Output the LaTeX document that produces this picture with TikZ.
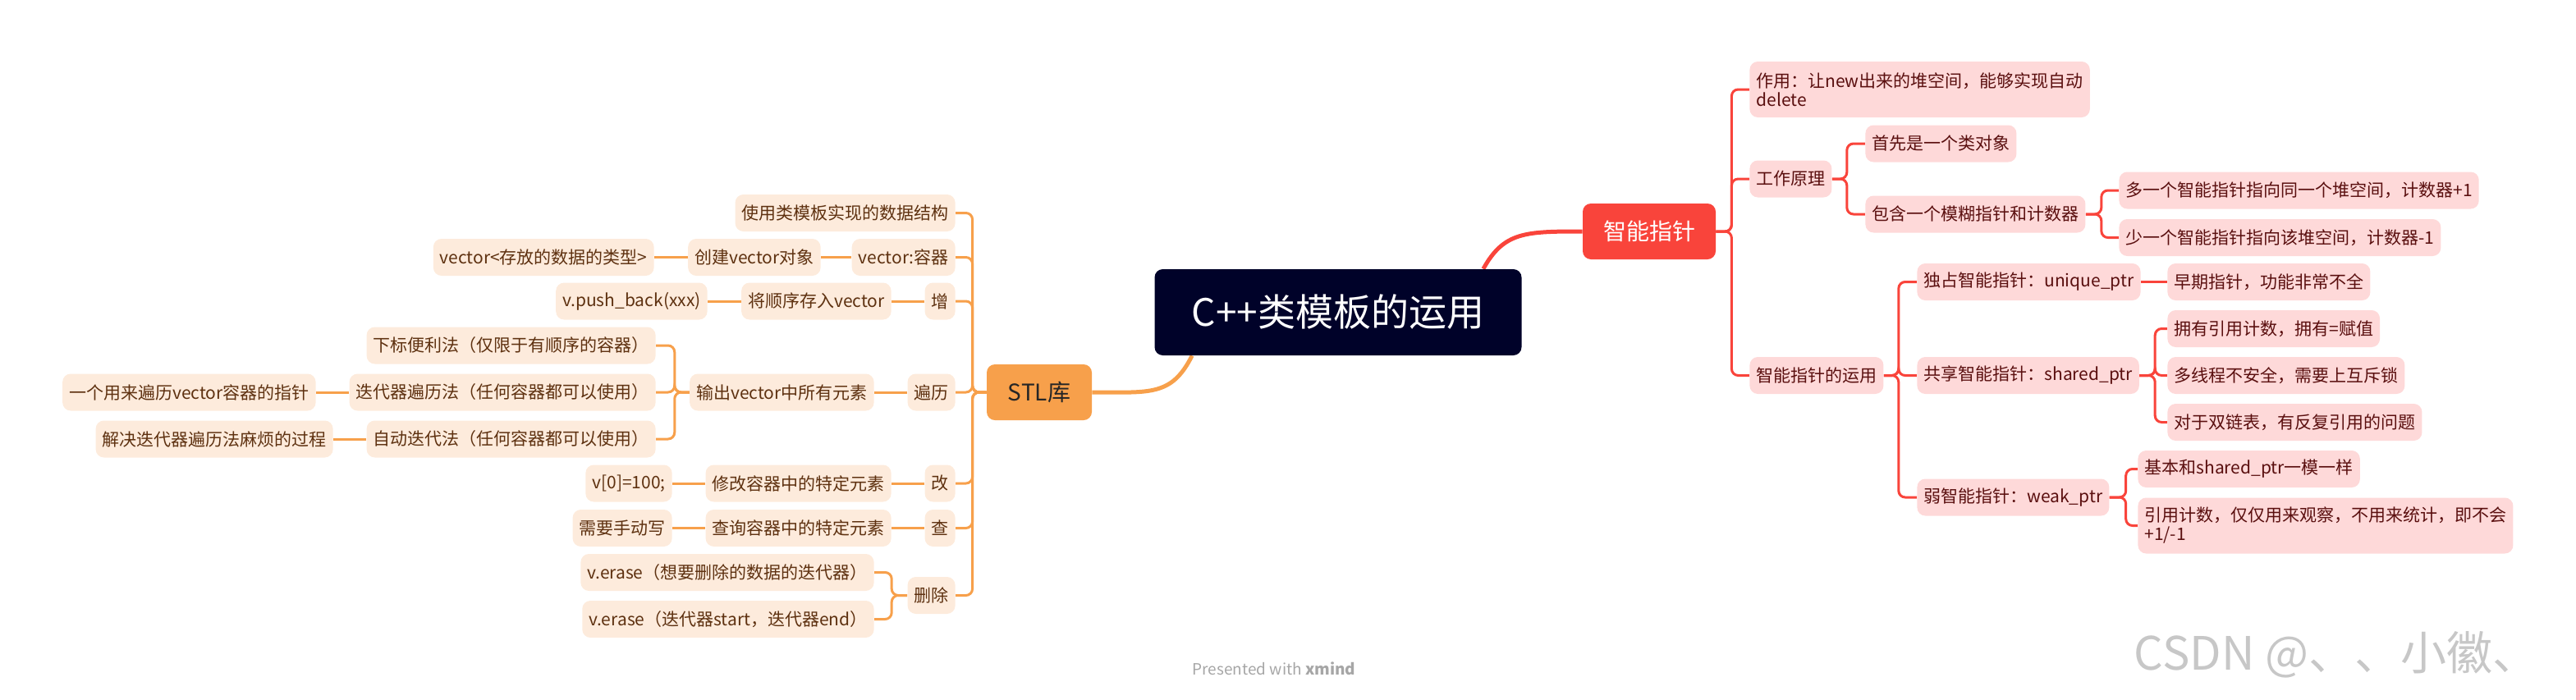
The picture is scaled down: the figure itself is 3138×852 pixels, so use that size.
\documentclass[tikz,border=0pt]{standalone}
\usepackage{fontspec}
\setmainfont{Noto Sans CJK SC}
\usepackage{tikz}
\usetikzlibrary{calc,positioning,backgrounds}
\definecolor{rootbg}{HTML}{000229}
\definecolor{stlorange}{HTML}{F7A04B}
\definecolor{stlfill}{HTML}{FDEBDC}
\definecolor{stltext}{HTML}{5E3110}
\definecolor{ptrred}{HTML}{F9443B}
\definecolor{ptrfill}{HTML}{FED9D9}
\definecolor{ptrtext}{HTML}{5A0F0F}
\tikzset{
  topicbox/.style={rounded corners=5pt, inner xsep=4pt, inner ysep=0pt, minimum height=22.5pt, font=\fontsize{10.5}{11.5}\selectfont},
  stlbox/.style={topicbox, fill=stlfill, text=stltext, anchor=east},
  ptrbox/.style={topicbox, fill=ptrfill, text=ptrtext, anchor=west, align=left},
  rootbox/.style={fill=rootbg, text=white, rounded corners=5pt, minimum width=223.5pt, minimum height=52.5pt, font=\fontsize{23}{27}\selectfont},
  stlroot/.style={fill=stlorange, text=black!85, rounded corners=5pt, minimum width=64pt, minimum height=34pt, font=\fontsize{14}{16}\selectfont},
  ptrroot/.style={fill=ptrred, text=white, rounded corners=5pt, minimum width=81pt, minimum height=34pt, font=\fontsize{14}{16}\selectfont},
  stlline/.style={draw=stlorange, line width=1.5pt, rounded corners=4pt},
  ptrline/.style={draw=ptrred, line width=1.5pt, rounded corners=4pt},
  stlmain/.style={draw=stlorange, line width=2.5pt},
  ptrmain/.style={draw=ptrred, line width=2.5pt},
}

\begin{document}
\begin{tikzpicture}[x=0.5pt,y=-0.5pt]
\useasboundingbox (0,0) rectangle (3138,852);
% central topic
\node[rootbox] (root) at (1630,380.5) {C++类模板的运用};
\node[stlroot] (stl) at (1266,478) {STL库};
\node[ptrroot] (ptr) at (2009,282) {智能指针};
\coordinate (rootS) at ([xshift=23pt]root.south west);
\coordinate (rootN) at ([xshift=-23.5pt]root.north east);

% STL, left side
\node[stlbox] (sUse) at (1164,259.5) {使用类模板实现的数据结构};
\node[stlbox] (sVec) at (1164,313.5) {vector:容器};
\node[stlbox] (sAdd) at (1164,367) {增};
\node[stlbox] (sLoop) at (1164,478) {遍历};
\node[stlbox] (sMod) at (1164,589) {改};
\node[stlbox] (sFind) at (1164,643.5) {查};
\node[stlbox] (sDel) at (1164,725.5) {删除};
\node[stlbox] (sVecNew) at (1000,313.5) {创建vector对象};
\node[stlbox] (sVecType) at (797,313.5) {vector<存放的数据的类型>};
\node[stlbox] (sAddSeq) at (1086,367) {将顺序存入vector};
\node[stlbox] (sAddPush) at (862,367) {v.push\_back(xxx)};
\node[stlbox] (sLoopOut) at (1065,478) {输出vector中所有元素};
\node[stlbox] (sLoopIdx) at (799,421) {下标便利法（仅限于有顺序的容器）};
\node[stlbox] (sLoopIt) at (799,478) {迭代器遍历法（任何容器都可以使用）};
\node[stlbox] (sLoopItPtr) at (385,478) {一个用来遍历vector容器的指针};
\node[stlbox] (sLoopAuto) at (799,535) {自动迭代法（任何容器都可以使用）};
\node[stlbox] (sLoopAutoWhy) at (406,535) {解决迭代器遍历法麻烦的过程};
\node[stlbox] (sModElem) at (1086,589) {修改容器中的特定元素};
\node[stlbox] (sModEx) at (819,589) {v[0]=100;};
\node[stlbox] (sFindElem) at (1086,643.5) {查询容器中的特定元素};
\node[stlbox] (sFindHow) at (819,643.5) {需要手动写};
\node[stlbox] (sDelOne) at (1065,697.5) {v.erase（想要删除的数据的迭代器）};
\node[stlbox] (sDelRange) at (1065,754.5) {v.erase（迭代器start，迭代器end）};

% smart pointers, right side
\node[ptrbox, minimum height=34pt] (pUse) at (2131,109) {作用：让new出来的堆空间，能够实现自动\\delete};
\node[ptrbox] (pHow) at (2131,218) {工作原理};
\node[ptrbox] (pApp) at (2131,457.5) {智能指针的运用};
\node[ptrbox] (pHowObj) at (2272,175) {首先是一个类对象};
\node[ptrbox] (pHowCnt) at (2272,261) {包含一个模糊指针和计数器};
\node[ptrbox] (pCntInc) at (2581,232) {多一个智能指针指向同一个堆空间，计数器+1};
\node[ptrbox] (pCntDec) at (2581,289.5) {少一个智能指针指向该堆空间，计数器-1};
\node[ptrbox] (pUnique) at (2335,343.5) {独占智能指针：unique\_ptr};
\node[ptrbox] (pUniqueNote) at (2640,343.5) {早期指针，功能非常不全};
\node[ptrbox] (pShared) at (2335,457.5) {共享智能指针：shared\_ptr};
\node[ptrbox] (pSharedA) at (2640,400.5) {拥有引用计数，拥有=赋值};
\node[ptrbox] (pSharedB) at (2640,457.5) {多线程不安全，需要上互斥锁};
\node[ptrbox] (pSharedC) at (2640,514.5) {对于双链表，有反复引用的问题};
\node[ptrbox] (pWeak) at (2335,606) {弱智能指针：weak\_ptr};
\node[ptrbox] (pWeakA) at (2604,571.5) {基本和shared\_ptr一模一样};
\node[ptrbox, minimum height=34pt] (pWeakB) at (2604,640.5) {引用计数，仅仅用来观察，不用来统计，即不会\\+1/-1};

% footer marks
\node[font=\fontsize{9.5}{11}\selectfont, text=black!35] (xmindMark) at (1552,815) {Presented with \textbf{xmind}};
\node[font=\fontsize{28}{32}\selectfont, text=black!22] (csdnMark) at (2846,798) {CSDN @、、小徽、};

\begin{scope}[on background layer]
\draw[stlmain] (rootS) .. controls +(-25,50) and +(70,0) .. (stl.east);
\draw[ptrmain] (rootN) .. controls +(25,-45) and +(-70,0) .. (ptr.west);
\foreach \kid in {sUse,sVec,sAdd,sLoop,sMod,sFind,sDel}
  \draw[stlline] (stl.west) -- ++(-17,0) |- (\kid.east);
\draw[stlline] (sVec.west) -- (sVecNew.east);
\draw[stlline] (sVecNew.west) -- (sVecType.east);
\draw[stlline] (sAdd.west) -- (sAddSeq.east);
\draw[stlline] (sAddSeq.west) -- (sAddPush.east);
\draw[stlline] (sLoop.west) -- (sLoopOut.east);
\foreach \kid in {sLoopIdx,sLoopIt,sLoopAuto}
  \draw[stlline] (sLoopOut.west) -- ++(-18,0) |- (\kid.east);
\draw[stlline] (sLoopIt.west) -- (sLoopItPtr.east);
\draw[stlline] (sLoopAuto.west) -- (sLoopAutoWhy.east);
\draw[stlline] (sMod.west) -- (sModElem.east);
\draw[stlline] (sModElem.west) -- (sModEx.east);
\draw[stlline] (sFind.west) -- (sFindElem.east);
\draw[stlline] (sFindElem.west) -- (sFindHow.east);
\foreach \kid in {sDelOne,sDelRange}
  \draw[stlline] (sDel.west) -- ++(-19,0) |- (\kid.east);

\foreach \kid in {pUse,pHow,pApp}
  \draw[ptrline] (ptr.east) -- ++(19,0) |- (\kid.west);
\foreach \kid in {pHowObj,pHowCnt}
  \draw[ptrline] (pHow.east) -- ++(18,0) |- (\kid.west);
\foreach \kid in {pCntInc,pCntDec}
  \draw[ptrline] (pHowCnt.east) -- ++(19,0) |- (\kid.west);
\foreach \kid in {pUnique,pShared,pWeak}
  \draw[ptrline] (pApp.east) -- ++(18,0) |- (\kid.west);
\draw[ptrline] (pUnique.east) -- (pUniqueNote.west);
\foreach \kid in {pSharedA,pSharedB,pSharedC}
  \draw[ptrline] (pShared.east) -- ++(19,0) |- (\kid.west);
\foreach \kid in {pWeakA,pWeakB}
  \draw[ptrline] (pWeak.east) -- ++(20,0) |- (\kid.west);
\end{scope}
\end{tikzpicture}
\end{document}
